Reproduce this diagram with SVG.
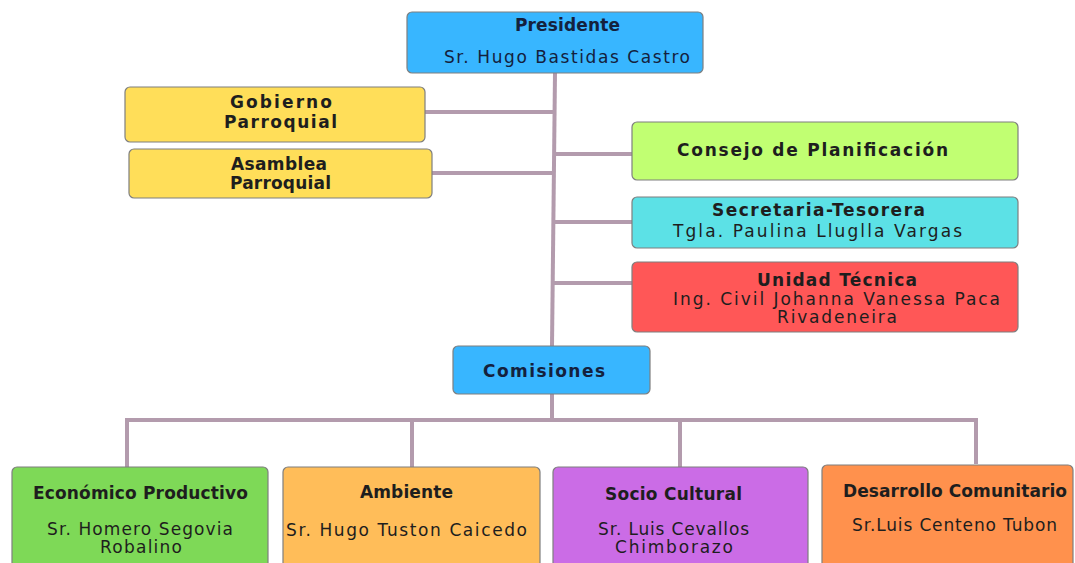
<svg xmlns="http://www.w3.org/2000/svg" width="1075" height="563" viewBox="0 0 1075 563">
<style>
.box{stroke:#7f7f7f;stroke-width:1.2}
.t{font-family:"DejaVu Sans","Liberation Sans",sans-serif;font-size:17px;text-anchor:middle;fill:#1e1e1e}
.b{font-weight:bold}
.navy{fill:#14213d}
.con{fill:none;stroke:#b39bad;stroke-width:4}
</style>
<rect width="1075" height="563" fill="#ffffff"/>
<g id="connectors">
<path class="con" d="M555 73 L552 346"/>
<path class="con" d="M552 394 V420"/>
<path class="con" d="M425 112 H553"/>
<path class="con" d="M432 173 H553"/>
<path class="con" d="M554 154 H632"/>
<path class="con" d="M553 222 H632"/>
<path class="con" d="M553 283 H632"/>
<path class="con" d="M127 467 V420 H976 V464"/>
<path class="con" d="M412 421 V467"/>
<path class="con" d="M680 421 V467"/>
</g>
<g id="presidente">
<rect class="box" x="407" y="12" width="296" height="61" rx="5" fill="#38b6ff"/>
<text class="t b navy" x="567.5" y="31" textLength="105">Presidente</text>
<text class="t navy" x="567" y="63" font-size="18" textLength="246">Sr. Hugo Bastidas Castro</text>
</g>
<g id="gobierno">
<rect class="box" x="125" y="87" width="300" height="55" rx="5" fill="#ffde59"/>
<text class="t b" x="281" y="108" font-size="16" textLength="102">Gobierno</text>
<text class="t b" x="280.5" y="128" font-size="16" textLength="113">Parroquial</text>
</g>
<g id="asamblea">
<rect class="box" x="129" y="149" width="303" height="49" rx="5" fill="#ffde59"/>
<text class="t b" x="279" y="170" font-size="15.5" textLength="96">Asamblea</text>
<text class="t b" x="280.5" y="189" font-size="15.5" textLength="101">Parroquial</text>
</g>
<g id="consejo">
<rect class="box" x="632" y="122" width="386" height="58" rx="5" fill="#c1ff72"/>
<text class="t b" x="812.5" y="156" font-size="19" textLength="271">Consejo de Planificación</text>
</g>
<g id="secretaria">
<rect class="box" x="632" y="197" width="386" height="51" rx="5" fill="#5ce1e6"/>
<text class="t b" x="818.5" y="216" textLength="213">Secretaria-Tesorera</text>
<text class="t" x="817.5" y="237" font-size="17.5" textLength="289">Tgla. Paulina Lluglla Vargas</text>
</g>
<g id="unidad">
<rect class="box" x="632" y="262" width="386" height="70" rx="5" fill="#ff5757"/>
<text class="t b" x="837" y="286" textLength="160">Unidad Técnica</text>
<text class="t" x="836.5" y="305" textLength="327">Ing. Civil Johanna Vanessa Paca</text>
<text class="t" x="837" y="323" textLength="120">Rivadeneira</text>
</g>
<g id="comisiones">
<rect class="box" x="453" y="346" width="197" height="48" rx="5" fill="#38b6ff"/>
<text class="t b navy" x="544" y="377" font-size="18" textLength="122">Comisiones</text>
</g>
<g id="economico">
<rect class="box" x="12" y="467" width="256" height="110" rx="5" fill="#7ed957"/>
<text class="t b" x="140.5" y="499" font-size="16" textLength="215">Económico Productivo</text>
<text class="t" x="140" y="535" textLength="186">Sr. Homero Segovia</text>
<text class="t" x="141" y="553" textLength="82">Robalino</text>
</g>
<g id="ambiente">
<rect class="box" x="283" y="467" width="257" height="110" rx="5" fill="#ffbd59"/>
<text class="t b" x="406.5" y="498" font-size="16" textLength="93">Ambiente</text>
<text class="t" x="406.5" y="536" font-size="18" textLength="241">Sr. Hugo Tuston Caicedo</text>
</g>
<g id="socio">
<rect class="box" x="553" y="467" width="255" height="110" rx="5" fill="#cb6ce6"/>
<text class="t b" x="673.5" y="500" font-size="16" textLength="137" fill="#2a0a33">Socio Cultural</text>
<text class="t" x="673.5" y="535" textLength="151" fill="#2a0a33">Sr. Luis Cevallos</text>
<text class="t" x="674" y="553" textLength="118" fill="#2a0a33">Chimborazo</text>
</g>
<g id="desarrollo">
<rect class="box" x="822" y="465" width="251" height="112" rx="5" fill="#ff914d"/>
<text class="t b" x="955" y="497" font-size="16" textLength="224">Desarrollo Comunitario</text>
<text class="t" x="954.5" y="531" font-size="18" textLength="205">Sr.Luis Centeno Tubon</text>
</g>
</svg>
